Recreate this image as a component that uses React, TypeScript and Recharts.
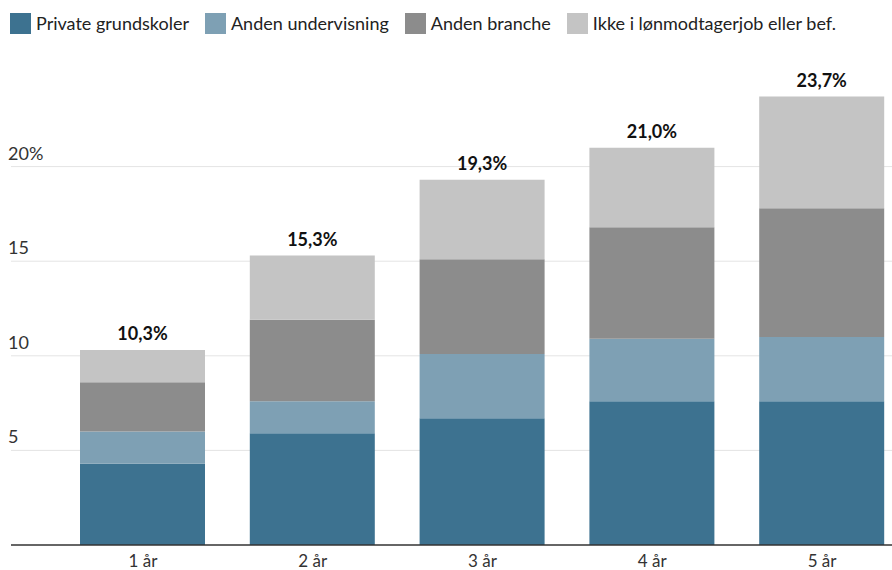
import { BarChart, Bar, XAxis, YAxis, CartesianGrid, LabelList } from 'recharts';

const years = ['1 år', '2 år', '3 år', '4 år', '5 år'];
const privateSchools = [4.3, 5.9, 6.7, 7.6, 7.6];
const otherEducation = [1.7, 1.7, 3.4, 3.3, 3.4];
const otherSector = [2.6, 4.3, 5.0, 5.9, 6.8];
const notEmployed = [1.7, 3.4, 4.2, 4.2, 5.9];
const totals = ['10,3%', '15,3%', '19,3%', '21,0%', '23,7%'];
const yTicks = [0, 5, 10, 15, 20];
const gridValues = [5, 10, 15, 20];

const SERIES = [
  { key: 'privat', name: 'Private grundskoler', color: '#3d7290' },
  { key: 'undervisning', name: 'Anden undervisning', color: '#7ea0b4' },
  { key: 'branche', name: 'Anden branche', color: '#8c8c8c' },
  { key: 'ikke', name: 'Ikke i lønmodtagerjob eller bef.', color: '#c4c4c4' },
];

const data = years.map((year, i) => ({
  year,
  privat: privateSchools[i],
  undervisning: otherEducation[i],
  branche: otherSector[i],
  ikke: notEmployed[i],
  total: totals[i],
}));

const FONT = 'Lato, "Open Sans", sans-serif';

function renderYTick(props: any) {
  const { y, payload } = props;
  if (payload.value === 0) return <g />;
  return (
    <text x={8} y={y - 7} fontSize={18} fill="#333" fontFamily={FONT}>
      {payload.value === 20 ? '20%' : String(payload.value)}
    </text>
  );
}

function TotalLabel({ x, y, width, value }: any) {
  return (
    <text x={x + width / 2} y={y - 10} textAnchor="middle" fontSize={18} fontWeight={700} fill="#111" fontFamily={FONT}>
      {value}
    </text>
  );
}

export default function App() {
  return (
    <div style={{ position: 'absolute', left: 0, top: 0, width: 892, height: 570, overflow: 'hidden', background: '#fff', fontFamily: FONT }}>
      {/* legend */}
      <div style={{ position: 'absolute', left: 10, top: 12, display: 'flex', alignItems: 'center', fontSize: 18, color: '#222' }}>
        {SERIES.map((s) => (
          <div key={s.key} style={{ display: 'flex', alignItems: 'center', marginRight: 16 }}>
            <div style={{ width: 21, height: 21, background: s.color, marginRight: 5 }} />
            <span>{s.name}</span>
          </div>
        ))}
      </div>
      <BarChart width={907} height={570} data={data} margin={{ top: 72, right: 0, left: 10, bottom: 0 }} barSize={125}>
        <CartesianGrid vertical={false} stroke="#e4e4e4" horizontalValues={gridValues} />
        <XAxis
          dataKey="year"
          height={25}
          padding={{ left: 47, right: 0 }}
          tickLine={false}
          axisLine={{ stroke: '#333', strokeWidth: 1.5 }}
          tick={{ fontSize: 17, fill: '#333', fontFamily: FONT }}
          tickMargin={4}
        />
        <YAxis width={1} domain={[0, 25]} ticks={yTicks} axisLine={false} tickLine={false} tick={renderYTick} interval={0} />
        {SERIES.map((s, i) => (
          <Bar key={s.key} dataKey={s.key} stackId="a" fill={s.color} isAnimationActive={false}>
            {i === SERIES.length - 1 && <LabelList dataKey="total" content={<TotalLabel />} />}
          </Bar>
        ))}
      </BarChart>
    </div>
  );
}
